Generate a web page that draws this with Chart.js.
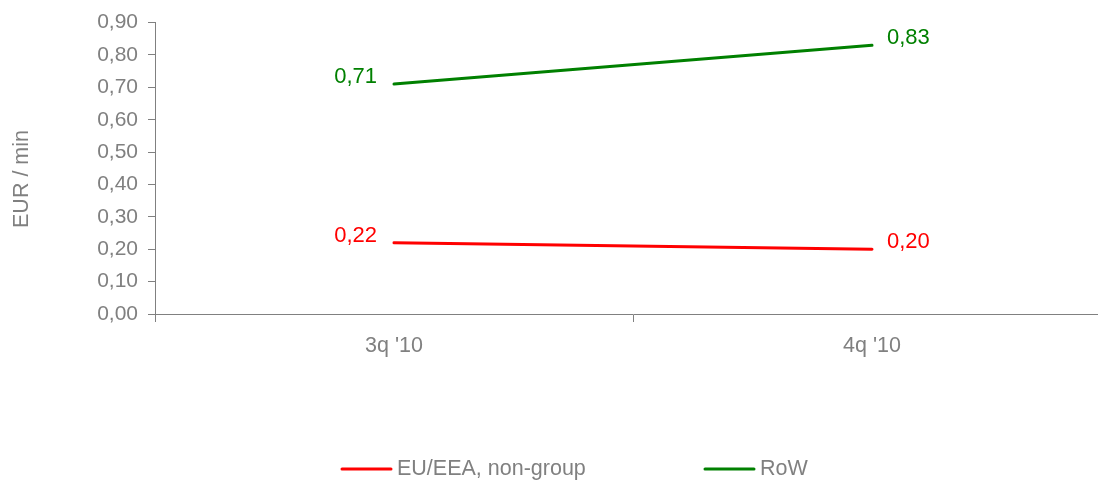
<!DOCTYPE html>
<html><head><meta charset="utf-8">
<script src="https://cdn.jsdelivr.net/npm/chart.js@4/dist/chart.umd.min.js"></script>
<style>html,body{margin:0;padding:0;background:#fff;overflow:hidden}#wrap{width:1098px;height:482px;position:relative;overflow:hidden}</style>
</head><body><div id="wrap"><canvas id="c" width="1114" height="482"></canvas></div>
<script>
const categories = ["3q '10", "4q '10"];
const seriesNames = ["EU/EEA, non-group", "RoW"];
const euValues = [0.22, 0.20];
const rowValues = [0.71, 0.83];
const seriesColors = ["#ff0000", "#008000"];
const yTicks = [0,0.1,0.2,0.3,0.4,0.5,0.6,0.7,0.8,0.9];
const yTitle = "EUR / min";
const legendX = [342, 705];

const FONT = "'Liberation Sans', Arial, sans-serif";
const GRAY = "#808080";
const fmt = v => v.toFixed(2).replace('.', ',');

const labelPlugin = {
  id: 'valLabels',
  afterDatasetsDraw(chart) {
    const ctx = chart.ctx;
    ctx.save();
    ctx.font = "22px " + FONT;
    ctx.textBaseline = 'middle';
    chart.data.datasets.forEach((ds, i) => {
      const meta = chart.getDatasetMeta(i);
      meta.data.forEach((pt, j) => {
        ctx.fillStyle = ds.borderColor;
        const last = j === meta.data.length - 1;
        ctx.textAlign = last ? 'left' : 'right';
        ctx.fillText(fmt(ds.data[j]), pt.x + (last ? 15 : -17), pt.y - 7);
      });
    });
    ctx.restore();
  }
};
const legendPlugin = {
  id: 'customLegend',
  afterDraw(chart) {
    const ctx = chart.ctx;
    ctx.save();
    ctx.font = "21.5px " + FONT;
    ctx.textBaseline = 'middle';
    ctx.textAlign = 'left';
    const y = 469;
    chart.data.datasets.forEach((ds, i) => {
      const x = legendX[i];
      ctx.strokeStyle = ds.borderColor;
      ctx.lineWidth = 3;
      ctx.lineCap = 'round';
      ctx.beginPath(); ctx.moveTo(x, y); ctx.lineTo(x + 49, y); ctx.stroke();
      ctx.fillStyle = GRAY;
      ctx.fillText(ds.label, x + 55, y);
    });
    ctx.translate(22, 179);
    ctx.rotate(-Math.PI / 2);
    ctx.textAlign = 'center';
    ctx.fillText(yTitle, 0, 0);
    ctx.restore();
  }
};

new Chart(document.getElementById('c'), {
  type: 'line',
  data: {
    labels: categories,
    datasets: [
      {label: seriesNames[0], data: euValues, borderColor: seriesColors[0], borderWidth: 3, pointRadius: 0, fill: false, borderCapStyle: 'round'},
      {label: seriesNames[1], data: rowValues, borderColor: seriesColors[1], borderWidth: 3, pointRadius: 0, fill: false, borderCapStyle: 'round'}
    ]
  },
  options: {
    responsive: false,
    animation: false,
    layout: {padding: {top: 22, right: 3, bottom: 0, left: 0}},
    plugins: {legend: {display: false}, tooltip: {enabled: false}},
    scales: {
      x: {
        offset: true,
        grid: {display: true, offset: true, drawOnChartArea: false, tickLength: 8, color: GRAY},
        border: {display: true, color: GRAY, width: 1},
        ticks: {color: GRAY, font: {family: FONT, size: 21.5}, padding: 11},
        afterFit(s) { s.height = 168; }
      },
      y: {
        min: 0, max: 0.9,
        afterBuildTicks(s) { s.ticks = yTicks.map(v => ({value: v})); },
        grid: {display: true, drawOnChartArea: false, tickLength: 7, color: GRAY},
        border: {display: true, color: GRAY, width: 1},
        ticks: {color: GRAY, font: {family: FONT, size: 21}, padding: 10, callback: v => fmt(v)},
        afterFit(s) { s.width = 155; }
      }
    }
  },
  plugins: [labelPlugin, legendPlugin]
});
</script></body></html>
